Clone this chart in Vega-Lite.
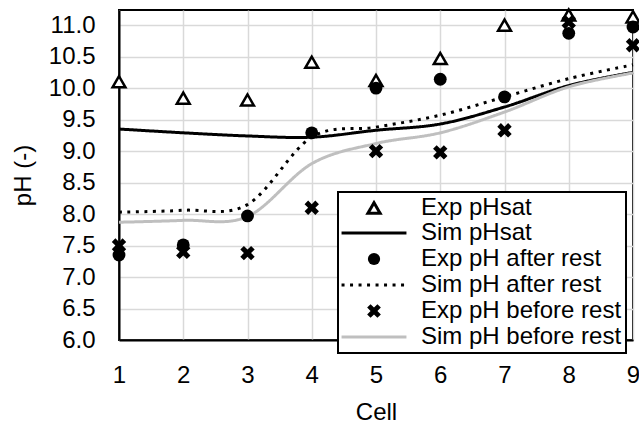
{
  "$schema": "https://vega.github.io/schema/vega-lite/v6.json",
  "width": 514,
  "height": 330,
  "autosize": {"type": "none"},
  "padding": {"left": 119, "top": 10, "right": 6, "bottom": 84},
  "background": "white",
  "config": {
    "font": "Liberation Sans",
    "view": {"stroke": "black", "strokeWidth": 2},
    "axis": {
      "labelFont": "Liberation Sans",
      "labelFontSize": 24,
      "labelColor": "black",
      "labelFlush": false,
      "titleFont": "Liberation Sans",
      "titleFontSize": 24,
      "titleFontWeight": "normal",
      "titleColor": "black",
      "domainColor": "black",
      "domainWidth": 2,
      "ticks": false,
      "gridColor": "#d9d9d9",
      "gridWidth": 1.5
    },
    "legend": {
      "labelFont": "Liberation Sans",
      "labelFontSize": 24,
      "labelColor": "black",
      "labelLimit": 400,
      "strokeColor": "black",
      "strokeWidth": 2,
      "fillColor": "white",
      "symbolSize": 150,
      "symbolStrokeWidth": 3,
      "symbolOpacity": 1
    }
  },
  "data": {
    "values": [
      {"cell": 1, "series": "Exp pHsat", "pH": 10.1},
      {"cell": 2, "series": "Exp pHsat", "pH": 9.84},
      {"cell": 3, "series": "Exp pHsat", "pH": 9.81},
      {"cell": 4, "series": "Exp pHsat", "pH": 10.41},
      {"cell": 5, "series": "Exp pHsat", "pH": 10.12},
      {"cell": 6, "series": "Exp pHsat", "pH": 10.47},
      {"cell": 7, "series": "Exp pHsat", "pH": 11.0},
      {"cell": 8, "series": "Exp pHsat", "pH": 11.16},
      {"cell": 9, "series": "Exp pHsat", "pH": 11.13},
      {"cell": 1, "series": "Sim pHsat", "pH": 9.35},
      {"cell": 2, "series": "Sim pHsat", "pH": 9.29},
      {"cell": 3, "series": "Sim pHsat", "pH": 9.24},
      {"cell": 4, "series": "Sim pHsat", "pH": 9.22},
      {"cell": 5, "series": "Sim pHsat", "pH": 9.33},
      {"cell": 6, "series": "Sim pHsat", "pH": 9.43},
      {"cell": 7, "series": "Sim pHsat", "pH": 9.7},
      {"cell": 8, "series": "Sim pHsat", "pH": 10.04},
      {"cell": 9, "series": "Sim pHsat", "pH": 10.25},
      {"cell": 1, "series": "Exp pH after rest", "pH": 7.35},
      {"cell": 2, "series": "Exp pH after rest", "pH": 7.51},
      {"cell": 3, "series": "Exp pH after rest", "pH": 7.97},
      {"cell": 4, "series": "Exp pH after rest", "pH": 9.29},
      {"cell": 5, "series": "Exp pH after rest", "pH": 10.0},
      {"cell": 6, "series": "Exp pH after rest", "pH": 10.14},
      {"cell": 7, "series": "Exp pH after rest", "pH": 9.86},
      {"cell": 8, "series": "Exp pH after rest", "pH": 10.87},
      {"cell": 9, "series": "Exp pH after rest", "pH": 10.97},
      {"cell": 1, "series": "Sim pH after rest", "pH": 8.03},
      {"cell": 2, "series": "Sim pH after rest", "pH": 8.06},
      {"cell": 3, "series": "Sim pH after rest", "pH": 8.15},
      {"cell": 4, "series": "Sim pH after rest", "pH": 9.22},
      {"cell": 5, "series": "Sim pH after rest", "pH": 9.38},
      {"cell": 6, "series": "Sim pH after rest", "pH": 9.57},
      {"cell": 7, "series": "Sim pH after rest", "pH": 9.86},
      {"cell": 8, "series": "Sim pH after rest", "pH": 10.15},
      {"cell": 9, "series": "Sim pH after rest", "pH": 10.37},
      {"cell": 1, "series": "Exp pH before rest", "pH": 7.5},
      {"cell": 2, "series": "Exp pH before rest", "pH": 7.4},
      {"cell": 3, "series": "Exp pH before rest", "pH": 7.38},
      {"cell": 4, "series": "Exp pH before rest", "pH": 8.1},
      {"cell": 5, "series": "Exp pH before rest", "pH": 9.0},
      {"cell": 6, "series": "Exp pH before rest", "pH": 8.98},
      {"cell": 7, "series": "Exp pH before rest", "pH": 9.33},
      {"cell": 8, "series": "Exp pH before rest", "pH": 11.05},
      {"cell": 9, "series": "Exp pH before rest", "pH": 10.68},
      {"cell": 1, "series": "Sim pH before rest", "pH": 7.87},
      {"cell": 2, "series": "Sim pH before rest", "pH": 7.9},
      {"cell": 3, "series": "Sim pH before rest", "pH": 7.96},
      {"cell": 4, "series": "Sim pH before rest", "pH": 8.8},
      {"cell": 5, "series": "Sim pH before rest", "pH": 9.12},
      {"cell": 6, "series": "Sim pH before rest", "pH": 9.29},
      {"cell": 7, "series": "Sim pH before rest", "pH": 9.62},
      {"cell": 8, "series": "Sim pH before rest", "pH": 10.02},
      {"cell": 9, "series": "Sim pH before rest", "pH": 10.24}
    ]
  },
  "encoding": {
    "x": {
      "field": "cell",
      "type": "quantitative",
      "scale": {"domain": [1, 9], "nice": false, "zero": false},
      "axis": {
        "values": [1, 2, 3, 4, 5, 6, 7, 8, 9],
        "format": "d",
        "labelPadding": 23,
        "title": "Cell",
        "titlePadding": 13
      }
    },
    "y": {
      "field": "pH",
      "type": "quantitative",
      "scale": {"domain": [6, 11.24], "nice": false, "zero": false},
      "axis": {
        "values": [6, 6.5, 7, 7.5, 8, 8.5, 9, 9.5, 10, 10.5, 11],
        "format": ".1f",
        "labelPadding": 24,
        "title": "pH (-)",
        "titlePadding": 13
      }
    },
    "stroke": {
      "field": "series",
      "type": "nominal",
      "scale": {
        "domain": ["Exp pHsat", "Sim pHsat", "Exp pH after rest", "Sim pH after rest", "Exp pH before rest", "Sim pH before rest"],
        "range": ["black", "black", "transparent", "black", "transparent", "#bfbfbf"]
      },
      "legend": {
        "orient": "none",
        "legendX": 219,
        "legendY": 182,
        "title": null,
        "padding": 4,
        "rowPadding": 1,
        "symbolOffset": 20,
        "labelOffset": 35
      }
    },
    "fill": {
      "field": "series",
      "type": "nominal",
      "scale": {
        "domain": ["Exp pHsat", "Sim pHsat", "Exp pH after rest", "Sim pH after rest", "Exp pH before rest", "Sim pH before rest"],
        "range": ["white", "transparent", "black", "transparent", "black", "transparent"]
      }
    }
  },
  "layer": [
    {
      "transform": [
        {"filter": {"field": "series", "oneOf": ["Sim pHsat", "Sim pH after rest", "Sim pH before rest"]}}
      ],
      "mark": {"type": "line", "interpolate": "cardinal", "strokeWidth": 3},
      "encoding": {
        "fill": {"value": null},
        "strokeDash": {
          "field": "series",
          "type": "nominal",
          "scale": {
            "domain": ["Exp pHsat", "Sim pHsat", "Exp pH after rest", "Sim pH after rest", "Exp pH before rest", "Sim pH before rest"],
            "range": [[1, 0], [1, 0], [1, 0], [3, 5.5], [1, 0], [1, 0]]
          }
        }
      }
    },
    {
      "transform": [
        {"filter": {"field": "series", "oneOf": ["Exp pHsat", "Exp pH after rest", "Exp pH before rest"]}}
      ],
      "mark": {"type": "point", "size": 165, "strokeWidth": 2.5, "opacity": 1},
      "encoding": {
        "shape": {
          "field": "series",
          "type": "nominal",
          "scale": {
            "domain": ["Exp pHsat", "Sim pHsat", "Exp pH after rest", "Sim pH after rest", "Exp pH before rest", "Sim pH before rest"],
            "range": ["triangle-up", "M-5.3,0H5.3", "circle", "M-5.3,0H5.3", "M-1.12,-0.56L-0.56,-1.12L0,-0.56L0.56,-1.12L1.12,-0.56L0.56,0L1.12,0.56L0.56,1.12L0,0.56L-0.56,1.12L-1.12,0.56L-0.56,0Z", "M-5.3,0H5.3"]
          }
        }
      }
    }
  ]
}
